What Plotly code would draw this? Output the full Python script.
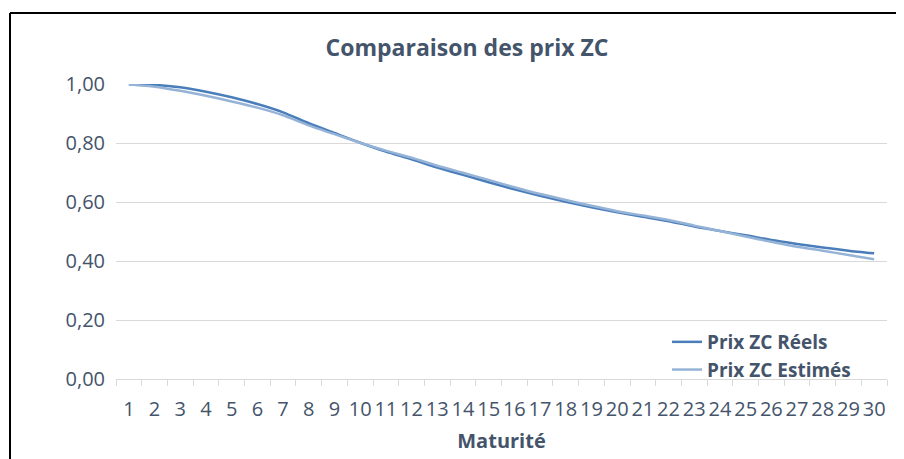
import plotly.graph_objects as go

maturites = [str(i) for i in range(1, 31)]
prix_reels = [1.000, 0.997, 0.989, 0.974, 0.955, 0.932, 0.904, 0.867, 0.834, 0.801,
              0.771, 0.745, 0.717, 0.692, 0.667, 0.643, 0.621, 0.601, 0.582, 0.565,
              0.550, 0.535, 0.517, 0.502, 0.487, 0.471, 0.458, 0.446, 0.435, 0.426]
prix_estimes = [0.998, 0.991, 0.977, 0.960, 0.941, 0.920, 0.894, 0.860, 0.830, 0.801,
                0.774, 0.750, 0.723, 0.699, 0.675, 0.650, 0.627, 0.607, 0.587, 0.569,
                0.554, 0.539, 0.520, 0.502, 0.483, 0.465, 0.448, 0.435, 0.420, 0.406]

OFF = 8  # page body margin
W, H = 904 - OFF, 459 - OFF
ML, MR, MT, MB = 116 - OFF, 17, 84 - OFF, 80
PW, PH = W - ML - MR, H - MT - MB
TXT = "#44546A"
FONT = "Open Sans"

fig = go.Figure()
fig.add_trace(go.Scatter(x=maturites, y=prix_reels, mode="lines", name="Prix ZC Réels",
                         line=dict(color="#4A7EBB", width=2.5, shape="spline", smoothing=0.6)))
fig.add_trace(go.Scatter(x=maturites, y=prix_estimes, mode="lines", name="Prix ZC Estimés",
                         line=dict(color="#95B3D7", width=2.5, shape="spline", smoothing=0.6)))

# screen-pixel helpers -> paper coordinates
def px(x):
    return (x - OFF - ML) / PW

def py(y):
    return (H - MB - (y - OFF)) / PH

fig.update_layout(
    width=W, height=H,
    margin=dict(l=ML, r=MR, t=MT, b=MB),
    paper_bgcolor="white", plot_bgcolor="white",
    separators=", ",
    font=dict(family=FONT, color=TXT, size=20),
    title=dict(text="Comparaison des prix ZC", x=(467 - OFF) / W, xanchor="center",
               y=1 - (48 - OFF) / H, yanchor="middle",
               font=dict(family=FONT, size=23, color=TXT, weight="bold")),
    xaxis=dict(type="category", range=[-0.5, len(maturites) - 0.5],
               tickson="boundaries", ticks="outside", ticklen=6,
               tickcolor="#D9D9D9", showline=True, linecolor="#D9D9D9", linewidth=1,
               showgrid=False, tickangle=0, tickfont=dict(size=20, color=TXT),
               ticklabelstandoff=12,
               title=dict(text="Maturité", font=dict(size=20, color=TXT, weight="bold"),
                          standoff=12)),
    yaxis=dict(range=[0, 1], tickvals=[0, 0.2, 0.4, 0.6, 0.8, 1.0], tickformat=".2f",
               showgrid=True, gridcolor="#D9D9D9", gridwidth=1, zeroline=False,
               showline=False, ticks="", tickfont=dict(size=20, color=TXT),
               ticklabelstandoff=10),
    legend=dict(x=px(667), y=py(323), xanchor="left", yanchor="top",
                bgcolor="rgba(0,0,0,0)", borderwidth=0,
                font=dict(size=19, color=TXT, weight="bold"),
                tracegroupgap=0, itemwidth=30),
    shapes=[
        dict(type="line", xref="paper", yref="paper", x0=px(10), x1=px(10),
             y0=py(470), y1=py(13), line=dict(color="black", width=2)),
        dict(type="line", xref="paper", yref="paper", x0=px(10), x1=px(904),
             y0=py(13), y1=py(13), line=dict(color="black", width=2)),
    ],
)

fig.write_html("out.html")
